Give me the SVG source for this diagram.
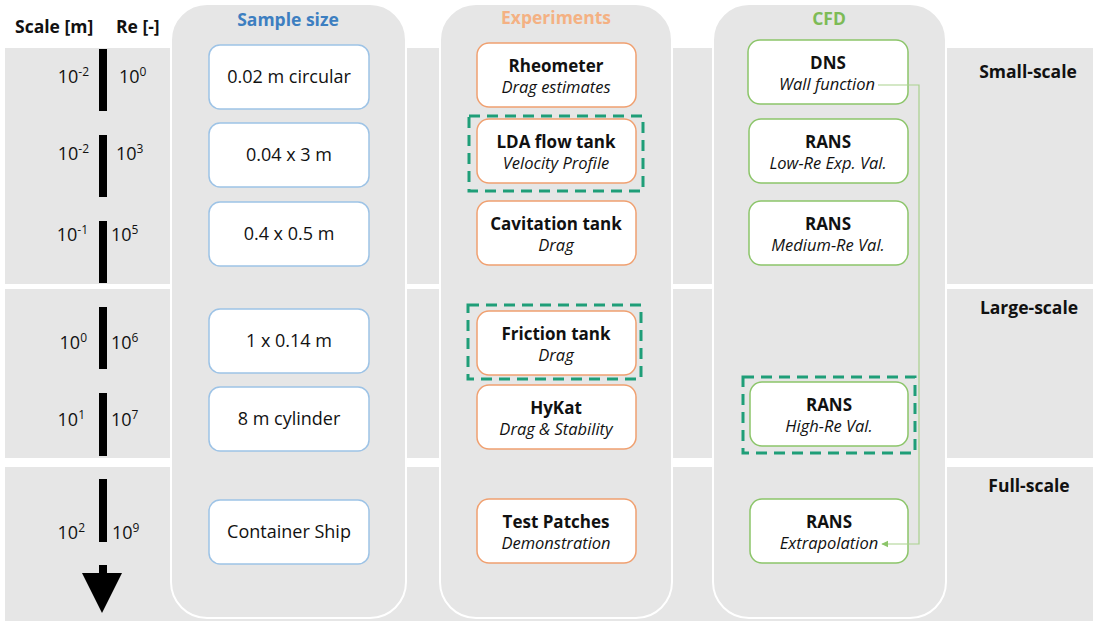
<svg xmlns="http://www.w3.org/2000/svg" width="1093" height="621" viewBox="0 0 1093 621">
  <defs>
    <style>
      text { font-family: "Open Sans", "Noto Sans", "Liberation Sans", sans-serif; fill: #111; }
      .band { fill: #e6e6e6; }
      .col { fill: #e6e6e6; stroke: #ffffff; stroke-width: 2; }
      .bar { fill: #000; }
      .hdr { font-weight: bold; font-size: 17.5px; }
      .num { font-size: 18px; }
      .numL { font-size: 18px; text-anchor: end; }
      .sup { font-size: 12px; }
      .sample rect { fill: #fff; stroke: #9dc3e6; stroke-width: 1.5; }
      .exp rect { fill: #fff; stroke: #f0a070; stroke-width: 1.5; }
      .cfd rect { fill: #fff; stroke: #8cc56a; stroke-width: 1.5; }
      .lbl { font-size: 18px; text-anchor: middle; }
      .ttl { font-size: 17px; font-weight: bold; text-anchor: middle; }
      .colhdr { font-size: 17.5px; font-weight: bold; text-anchor: middle; }
      .sub { font-size: 16.5px; font-style: italic; text-anchor: middle; }
      .hl { fill: none; stroke: #1f9e78; stroke-width: 3; stroke-dasharray: 11 7; }
      .link { fill: none; stroke: #a9d18e; stroke-width: 1.2; }
    </style>
    <marker id="arrowGreen" viewBox="0 0 10 10" refX="9" refY="5" markerWidth="6" markerHeight="6" orient="auto">
      <path d="M0,0 L10,5 L0,10 z" fill="#8cc56a"/>
    </marker>
  </defs>

  <rect width="1093" height="621" fill="#ffffff"/>

  <!-- scale bands -->
  <g id="bands">
    <rect class="band" x="5" y="48" width="1088" height="236"/>
    <rect class="band" x="5" y="289" width="1088" height="169"/>
    <rect class="band" x="5" y="467" width="1088" height="154"/>
  </g>

  <!-- column panels -->
  <g id="columns">
    <rect class="col" x="171" y="4" width="235" height="614" rx="36"/>
    <rect class="col" x="440" y="4" width="232" height="614" rx="36"/>
    <rect class="col" x="713" y="4" width="233" height="614" rx="36"/>
  </g>

  <!-- axis headers -->
  <g id="axis-headers">
    <text class="hdr" x="15" y="33">Scale [m]</text>
    <text class="hdr" x="116" y="33">Re [-]</text>
  </g>

  <!-- scale bars and arrow -->
  <g id="scale-axis">
    <rect class="bar" x="99" y="49" width="8" height="62"/>
    <rect class="bar" x="99" y="135" width="8" height="62"/>
    <rect class="bar" x="99" y="221" width="8" height="62"/>
    <rect class="bar" x="99" y="307" width="8" height="62"/>
    <rect class="bar" x="99" y="393" width="8" height="63"/>
    <rect class="bar" x="99" y="479" width="8" height="63"/>
    <rect class="bar" x="99" y="565" width="8" height="10"/>
    <polygon points="82,573 122,573 102,613" fill="#000"/>
  </g>

  <!-- scale / Reynolds values -->
  <g id="scale-values">
    <text class="numL" x="89" y="83">10<tspan class="sup" dy="-7">-2</tspan></text>
    <text class="num" x="119" y="83">10<tspan class="sup" dy="-7">0</tspan></text>
    <text class="numL" x="89" y="160">10<tspan class="sup" dy="-7">-2</tspan></text>
    <text class="num" x="116" y="160">10<tspan class="sup" dy="-7">3</tspan></text>
    <text class="numL" x="88" y="241">10<tspan class="sup" dy="-7">-1</tspan></text>
    <text class="num" x="111" y="241">10<tspan class="sup" dy="-7">5</tspan></text>
    <text class="numL" x="87" y="349">10<tspan class="sup" dy="-7">0</tspan></text>
    <text class="num" x="111" y="349">10<tspan class="sup" dy="-7">6</tspan></text>
    <text class="numL" x="85" y="426">10<tspan class="sup" dy="-7">1</tspan></text>
    <text class="num" x="111" y="426">10<tspan class="sup" dy="-7">7</tspan></text>
    <text class="numL" x="85" y="539">10<tspan class="sup" dy="-7">2</tspan></text>
    <text class="num" x="112" y="539">10<tspan class="sup" dy="-7">9</tspan></text>
  </g>

  <!-- column headers -->
  <g id="column-headers">
    <text class="colhdr" x="288" y="26" style="fill:#3d7fc1">Sample size</text>
    <text class="colhdr" x="556" y="24" style="fill:#f4b183">Experiments</text>
    <text class="colhdr" x="829" y="25" style="fill:#7dbb56">CFD</text>
  </g>

  <!-- scale regime labels -->
  <g id="regime-labels">
    <text class="colhdr" x="1028" y="78" style="fill:#111">Small-scale</text>
    <text class="colhdr" x="1029" y="314" style="fill:#111">Large-scale</text>
    <text class="colhdr" x="1029" y="492" style="fill:#111">Full-scale</text>
  </g>

  <!-- sample size nodes -->
  <g id="sample-1" class="sample"><rect x="209" y="45" width="160" height="64" rx="11"/><text class="lbl" x="289" y="83">0.02 m circular</text></g>
  <g id="sample-2" class="sample"><rect x="209" y="123" width="160" height="64" rx="11"/><text class="lbl" x="289" y="161">0.04 x 3 m</text></g>
  <g id="sample-3" class="sample"><rect x="209" y="202" width="160" height="64" rx="11"/><text class="lbl" x="289" y="240">0.4 x 0.5 m</text></g>
  <g id="sample-4" class="sample"><rect x="209" y="309" width="160" height="64" rx="11"/><text class="lbl" x="289" y="347">1 x 0.14 m</text></g>
  <g id="sample-5" class="sample"><rect x="209" y="387" width="160" height="64" rx="11"/><text class="lbl" x="289" y="425">8 m cylinder</text></g>
  <g id="sample-6" class="sample"><rect x="209" y="500" width="160" height="64" rx="11"/><text class="lbl" x="289" y="538">Container Ship</text></g>

  <!-- experiment nodes -->
  <g id="exp-rheometer" class="exp"><rect x="477" y="43" width="159" height="64" rx="12"/><text class="ttl" x="556" y="72">Rheometer</text><text class="sub" x="556" y="93">Drag estimates</text></g>
  <g id="exp-lda" class="exp"><rect x="477" y="119" width="159" height="64" rx="12"/><text class="ttl" x="556" y="148">LDA flow tank</text><text class="sub" x="556" y="169">Velocity Profile</text></g>
  <g id="exp-cavitation" class="exp"><rect x="477" y="201" width="159" height="64" rx="12"/><text class="ttl" x="556" y="230">Cavitation tank</text><text class="sub" x="556" y="251">Drag</text></g>
  <g id="exp-friction" class="exp"><rect x="477" y="311" width="159" height="64" rx="12"/><text class="ttl" x="556" y="340">Friction tank</text><text class="sub" x="556" y="361">Drag</text></g>
  <g id="exp-hykat" class="exp"><rect x="477" y="385" width="159" height="64" rx="12"/><text class="ttl" x="556" y="414">HyKat</text><text class="sub" x="556" y="435">Drag &amp; Stability</text></g>
  <g id="exp-patches" class="exp"><rect x="477" y="499" width="159" height="64" rx="12"/><text class="ttl" x="556" y="528">Test Patches</text><text class="sub" x="556" y="549">Demonstration</text></g>

  <!-- CFD nodes -->
  <g id="cfd-dns" class="cfd"><rect x="748" y="40" width="160" height="64" rx="12"/><text class="ttl" x="828" y="69">DNS</text><text class="sub" x="827" y="90">Wall function</text></g>
  <g id="cfd-rans-low" class="cfd"><rect x="749" y="119" width="159" height="64" rx="12"/><text class="ttl" x="828" y="148">RANS</text><text class="sub" x="828" y="169">Low-Re Exp. Val.</text></g>
  <g id="cfd-rans-medium" class="cfd"><rect x="749" y="201" width="159" height="64" rx="12"/><text class="ttl" x="828" y="230">RANS</text><text class="sub" x="828" y="251">Medium-Re  Val.</text></g>
  <g id="cfd-rans-high" class="cfd"><rect x="750" y="382" width="158" height="64" rx="12"/><text class="ttl" x="829" y="411">RANS</text><text class="sub" x="829" y="432">High-Re Val.</text></g>
  <g id="cfd-rans-extrap" class="cfd"><rect x="750" y="499" width="158" height="64" rx="12"/><text class="ttl" x="829" y="528">RANS</text><text class="sub" x="829" y="549">Extrapolation</text></g>

  <!-- highlighted validation cases -->
  <g id="highlights">
    <rect class="hl" x="469" y="116" width="174" height="75"/>
    <rect class="hl" x="468" y="305" width="173" height="74"/>
    <rect class="hl" x="743" y="377" width="172" height="76"/>
  </g>

  <!-- connectors -->
  <g id="connectors">
    <polyline class="link" points="878,85 919,85 919,544 882,544" marker-end="url(#arrowGreen)"/>
  </g>
</svg>
